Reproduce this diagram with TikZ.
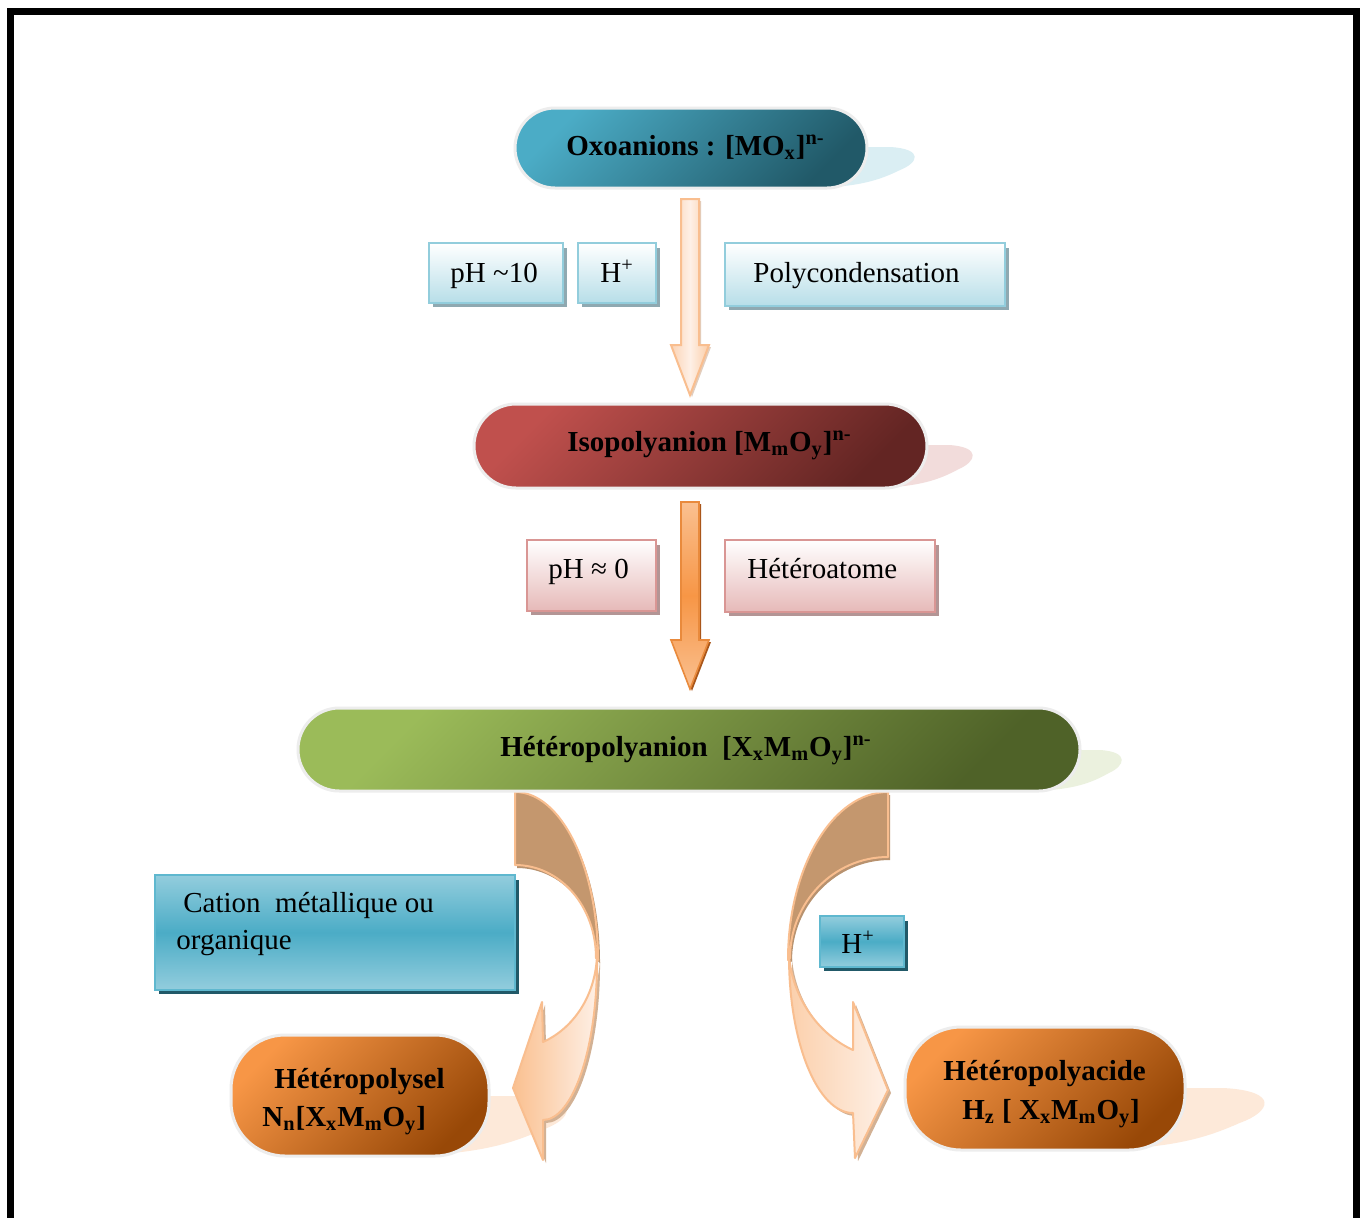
\documentclass[tikz,border=0pt]{standalone}
\usepackage{fontspec}
\setmainfont{Liberation Serif}
\definecolor{tealL}{HTML}{4BACC6}
\definecolor{tealD}{HTML}{215968}
\definecolor{redL}{HTML}{C0504D}
\definecolor{redD}{HTML}{632523}
\definecolor{grnL}{HTML}{9BBB59}
\definecolor{grnD}{HTML}{4F6228}
\definecolor{orgL}{HTML}{F79646}
\definecolor{orgD}{HTML}{984807}
\definecolor{glow}{HTML}{EDEDED}
\definecolor{shTeal}{HTML}{DAEEF3}
\definecolor{shRed}{HTML}{F2DCDB}
\definecolor{shGrn}{HTML}{EBF1DE}
\definecolor{shOrg}{HTML}{FDE9D9}
\definecolor{lbBorder}{HTML}{92CDDC}
\definecolor{lbFill}{HTML}{B7DEE8}
\definecolor{lbShadow}{HTML}{8FA9B1}
\definecolor{pkBorder}{HTML}{D99694}
\definecolor{pkFill}{HTML}{E6B9B8}
\definecolor{pkShadow}{HTML}{B39595}
\definecolor{cyBorder}{HTML}{5FB8CF}
\definecolor{cyMid}{HTML}{4BACC6}
\definecolor{cyLight}{HTML}{93CDDD}
\definecolor{cyShadow}{HTML}{215968}
\definecolor{peachB}{HTML}{F9BE8F}
\definecolor{peachL}{HTML}{FAC090}
\definecolor{peachW}{HTML}{FEF0E6}
\definecolor{bandTan}{HTML}{C4976E}
\definecolor{bandSh}{HTML}{B8926F}
\definecolor{frontSh}{HTML}{D2B194}
\definecolor{arrOne}{HTML}{FBD3B5}
\definecolor{arrOneSh}{HTML}{E2CDBD}
\definecolor{arrTwoB}{HTML}{E98A3C}
\definecolor{arrTwoSh}{HTML}{A9561A}
\newcommand{\pillshade}[5]{%
  \begin{scope}[shift={(#1,#2)},xscale=#3,yscale=#4]
    \fill[#5] (-1.2,-1) -- (0.48,-1) .. controls (1.2,-0.95) and (1.06,-0.61) .. (0.69,-0.44)
      .. controls (0.27,-0.2) and (-0.15,-0.02) .. (-1.2,0) -- cycle;
  \end{scope}}
\begin{document}
\begin{tikzpicture}[x=0.5pt,y=-0.5pt,
  txt/.style={inner sep=0pt, font=\fontsize{14.5}{17}\selectfont, anchor=base west},
  pillglow/.style={draw=glow, line width=1.5pt},
  diag/.style={shading angle=45},
  lbox/.style={draw=lbBorder, line width=1pt, top color=white, bottom color=lbFill},
  pkbox/.style={draw=pkBorder, line width=1pt, top color=white, bottom color=pkFill},
  cybox/.style={draw=cyBorder, line width=1pt, top color=cyLight, bottom color=cyLight, middle color=cyMid},
  backband/.style={fill=bandTan, draw=peachB, line width=1pt, line join=round},
  frontband/.style={draw=peachB, line width=1pt, line join=round}]
\clip (0,0) rectangle (1366,1217);
\fill[white] (0,0) rectangle (1366,1217);
% frame
\draw[line width=3.5pt] (10.5,1240) -- (10.5,11.5) -- (1356.5,11.5) -- (1356.5,1240);

% ---------- pill shadows ----------
\pillshade{867}{188}{48}{41}{shTeal}
\pillshade{927}{488}{46}{43}{shRed}
\pillshade{1080}{791}{42}{41}{shGrn}
\pillshade{489}{1156}{78}{60}{shOrg}
\pillshade{1185}{1150}{80}{62}{shOrg}

% ---------- straight arrows ----------
\fill[arrOneSh] (683,201) -- (701,201) -- (701,347) -- (711,347) -- (692,397) -- (673,347) -- (683,347) -- cycle;
\draw[draw=peachB, line width=1pt, left color=arrOne, right color=peachL!80, middle color=peachW]
  (681,199) coordinate (a1top) -- (699,199) -- (699,345) -- (709,345) -- (690,395) coordinate (a1tip)
  -- (671,345) -- (681,345) -- cycle;
\fill[arrTwoSh] (683,504) -- (701,504) -- (701,642) -- (711,642) -- (692,691) -- (673,642) -- (683,642) -- cycle;
\draw[draw=arrTwoB, line width=0.8pt, top color=peachL, bottom color=peachL, middle color=orgL]
  (681,502) coordinate (a2top) -- (699,502) -- (699,640) -- (709,640) -- (690,689) coordinate (a2tip)
  -- (671,640) -- (681,640) -- cycle;

% ---------- curved arrows ----------
% left
\fill[bandSh, shift={(2,3)}] (515,792) .. controls (561,792) and (598,867) .. (598,960) -- (596,958)
  .. controls (596,906) and (560,865) .. (515,865) -- cycle;
\draw[backband] (515,792) coordinate (lbtop) .. controls (561,792) and (598,867) .. (598,960) -- (596,958)
  .. controls (596,906) and (560,865) .. (515,865) -- cycle;
\fill[frontSh, shift={(3,3)}] (597,956) .. controls (598,1047) and (573,1120) .. (543,1120) -- (543,1160)
  -- (513,1088) -- (542,1002) -- (543,1042) .. controls (570,1030) and (595,1000) .. (597,956) -- cycle;
\draw[frontband, left color=peachL, right color=peachW] (597,956) .. controls (598,1047) and (573,1120) .. (543,1120)
  -- (543,1160) -- (513,1088) coordinate (lbtip) -- (542,1002) -- (543,1042)
  .. controls (570,1030) and (595,1000) .. (597,956) -- cycle;
% right
\fill[bandSh, shift={(2,3)}] (888,792) .. controls (833,792) and (788,867) .. (788,960) -- (790,958)
  .. controls (790,902) and (834,857) .. (888,857) -- cycle;
\draw[backband] (888,792) coordinate (rbtop) .. controls (833,792) and (788,867) .. (788,960) -- (790,958)
  .. controls (790,902) and (834,857) .. (888,857) -- cycle;
\fill[frontSh, shift={(3,3)}] (789,956) .. controls (789,1044) and (818,1113) .. (853,1113) -- (855,1158)
  -- (888,1090) -- (853,1002) -- (853,1050) .. controls (820,1035) and (793,1000) .. (789,956) -- cycle;
\draw[frontband, left color=peachL!75, right color=peachW] (789,956) .. controls (789,1044) and (818,1113) .. (853,1113)
  -- (855,1158) -- (888,1090) coordinate (rbtip) -- (853,1002) -- (853,1050)
  .. controls (820,1035) and (793,1000) .. (789,956) -- cycle;

% ---------- pills ----------
\draw[pillglow, top color=tealL, bottom color=tealD, diag, rounded corners=20pt] (515,108) rectangle (867,188);
\draw[pillglow, top color=redL, bottom color=redD, diag, rounded corners=21pt] (474,404) rectangle (927,488);
\draw[pillglow, top color=grnL, bottom color=grnD, diag, rounded corners=20.7pt] (298,708) rectangle (1080,791);
\draw[pillglow, top color=orgL, bottom color=orgD, diag, rounded corners=27pt] (231,1035) rectangle (489,1156);
\draw[pillglow, top color=orgL, bottom color=orgD, diag, rounded corners=28pt] (905,1027) rectangle (1185,1150);

% ---------- label boxes ----------
\fill[lbShadow] (433,248) rectangle (567,307);
\draw[lbox] (429,243) rectangle (563,303);
\fill[lbShadow] (582,248) rectangle (660,307);
\draw[lbox] (578,243) rectangle (656,303);
\fill[lbShadow] (729,248) rectangle (1009,310);
\draw[lbox] (725,243) rectangle (1005,306);
\fill[pkShadow] (531,545) rectangle (660,615);
\draw[pkbox] (527,540) rectangle (656,611);
\fill[pkShadow] (729,545) rectangle (939,616);
\draw[pkbox] (725,540) rectangle (935,612);
\fill[cyShadow] (159,880) rectangle (519,994);
\draw[cybox] (155,875) rectangle (515,990);
\fill[cyShadow] (824,921) rectangle (908,971);
\draw[cybox] (820,916) rectangle (904,967);

% ---------- texts ----------
\node[txt] (oxo) at (566,155) {\bfseries Oxoanions : [MO\textsubscript{x}]\textsuperscript{n-}};
\node[txt] (iso) at (567,451) {\bfseries Isopolyanion [M\textsubscript{m}O\textsubscript{y}]\textsuperscript{n-}};
\node[txt] (hpa) at (500,756) {\bfseries Hétéropolyanion\ \ [X\textsubscript{x}M\textsubscript{m}O\textsubscript{y}]\textsuperscript{n-}};
\node[txt] (ph10) at (450,282) {pH \char"7E 10};
\node[txt] (hp1) at (600,282) {H\textsuperscript{+}};
\node[txt] (poly) at (753,282) {Polycondensation};
\node[txt] (ph0) at (548,578) {pH ≈ 0};
\node[txt] (het) at (747,578) {Hétéroatome};
\node[txt] (cat1) at (183,912) {Cation\ \ métallique ou};
\node[txt] (cat2) at (176,949) {organique};
\node[txt] (hp2) at (841,953) {H\textsuperscript{+}};
\node[txt] (sel1) at (274,1088) {\bfseries Hétéropolysel};
\node[txt] (sel2) at (262,1126) {\bfseries N\textsubscript{n}[X\textsubscript{x}M\textsubscript{m}O\textsubscript{y}]};
\node[txt] (ac1) at (943,1080) {\bfseries Hétéropolyacide};
\node[txt] (ac2) at (962,1119) {\bfseries H\textsubscript{z} [ X\textsubscript{x}M\textsubscript{m}O\textsubscript{y}]};
\end{tikzpicture}
\end{document}
